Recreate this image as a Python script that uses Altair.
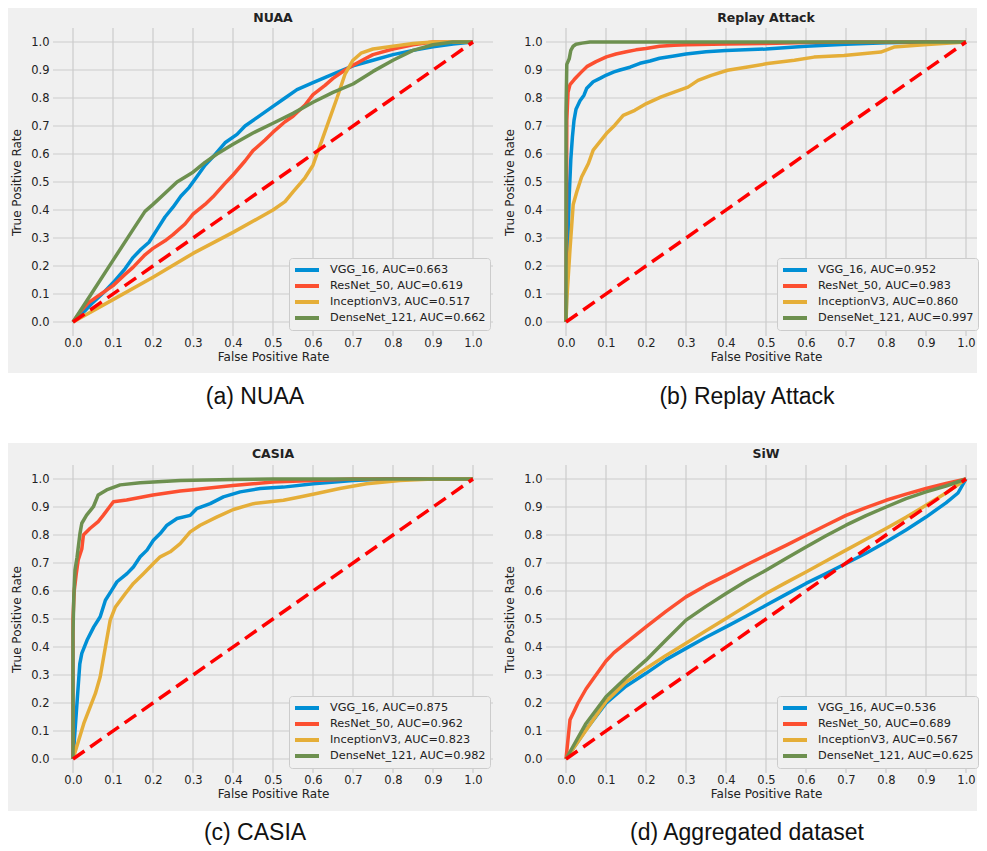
import altair as alt
import pandas as pd

TICKS = [0.0, 0.1, 0.2, 0.3, 0.4, 0.5, 0.6, 0.7, 0.8, 0.9, 1.0]
MODELS = ["VGG_16", "ResNet_50", "InceptionV3", "DenseNet_121"]
COLORS = ["#008fd5", "#fc4f30", "#e5ae38", "#6d904f"]
TITLES = ["NUAA", "Replay Attack", "CASIA", "SiW"]
CAPTIONS = ["(a) NUAA", "(b) Replay Attack", "(c) CASIA", "(d) Aggregated dataset"]
DIAG_X = [0.0, 1.0]
DIAG_Y = [0.0, 1.0]

NUAA_AUC = ["0.663", "0.619", "0.517", "0.662"]
REPLAY_AUC = ["0.952", "0.983", "0.860", "0.997"]
CASIA_AUC = ["0.875", "0.962", "0.823", "0.982"]
SIW_AUC = ["0.536", "0.689", "0.567", "0.625"]

# ---------------- NUAA ----------------
NUAA_VGG_FPR = [0, 0.03, 0.05, 0.08, 0.1, 0.13, 0.15, 0.17, 0.19, 0.21, 0.23, 0.25, 0.27, 0.29, 0.31, 0.33, 0.35, 0.38, 0.41, 0.43, 0.46, 0.5, 0.53, 0.56, 0.6, 0.65, 0.7, 0.75, 0.8, 0.85, 0.9, 0.95, 1.0]
NUAA_VGG_TPR = [0, 0.04, 0.07, 0.11, 0.14, 0.19, 0.23, 0.26, 0.285, 0.33, 0.375, 0.41, 0.45, 0.48, 0.52, 0.56, 0.59, 0.64, 0.67, 0.70, 0.73, 0.77, 0.80, 0.83, 0.855, 0.885, 0.915, 0.935, 0.955, 0.97, 0.983, 0.993, 1.0]
NUAA_RES_FPR = [0, 0.02, 0.04, 0.07, 0.1, 0.13, 0.15, 0.18, 0.2, 0.23, 0.25, 0.28, 0.3, 0.33, 0.35, 0.38, 0.4, 0.43, 0.45, 0.48, 0.5, 0.53, 0.55, 0.58, 0.6, 0.63, 0.65, 0.68, 0.7, 0.73, 0.75, 0.8, 0.85, 0.9, 1.0]
NUAA_RES_TPR = [0, 0.04, 0.07, 0.1, 0.13, 0.17, 0.195, 0.24, 0.263, 0.29, 0.312, 0.35, 0.385, 0.42, 0.447, 0.495, 0.525, 0.575, 0.612, 0.65, 0.678, 0.715, 0.735, 0.775, 0.812, 0.845, 0.87, 0.9, 0.917, 0.94, 0.955, 0.975, 0.99, 1.0, 1.0]
NUAA_INC_FPR = [0, 0.1, 0.2, 0.3, 0.4, 0.5, 0.53, 0.55, 0.58, 0.6, 0.61, 0.62, 0.64, 0.66, 0.68, 0.7, 0.72, 0.75, 0.8, 0.85, 0.9, 1.0]
NUAA_INC_TPR = [0, 0.08, 0.16, 0.245, 0.32, 0.40, 0.43, 0.465, 0.515, 0.56, 0.6, 0.64, 0.72, 0.80, 0.885, 0.935, 0.96, 0.975, 0.985, 0.995, 1.0, 1.0]
NUAA_DEN_FPR = [0, 0.05, 0.1, 0.15, 0.18, 0.2, 0.23, 0.26, 0.3, 0.33, 0.36, 0.4, 0.45, 0.5, 0.55, 0.6, 0.65, 0.7, 0.75, 0.8, 0.85, 0.9, 0.95, 1.0]
NUAA_DEN_TPR = [0, 0.11, 0.22, 0.33, 0.395, 0.42, 0.46, 0.5, 0.535, 0.57, 0.6, 0.635, 0.675, 0.71, 0.745, 0.785, 0.82, 0.85, 0.895, 0.935, 0.97, 0.99, 1.0, 1.0]

# ---------------- Replay Attack ----------------
REPLAY_VGG_FPR = [0, 0.003, 0.008, 0.012, 0.016, 0.02, 0.025, 0.035, 0.045, 0.052, 0.068, 0.085, 0.101, 0.12, 0.135, 0.16, 0.185, 0.21, 0.234, 0.27, 0.3, 0.35, 0.4, 0.5, 0.6, 0.7, 0.8, 0.9, 1.0]
REPLAY_VGG_TPR = [0, 0.2, 0.45, 0.58, 0.66, 0.72, 0.76, 0.79, 0.81, 0.835, 0.858, 0.87, 0.882, 0.893, 0.9, 0.91, 0.924, 0.932, 0.942, 0.95, 0.957, 0.965, 0.97, 0.975, 0.985, 0.992, 0.997, 1.0, 1.0]
REPLAY_RES_FPR = [0, 0.002, 0.005, 0.01, 0.02, 0.027, 0.04, 0.052, 0.075, 0.101, 0.125, 0.151, 0.175, 0.2, 0.234, 0.27, 0.3, 0.4, 0.5, 0.6, 0.7, 1.0]
REPLAY_RES_TPR = [0, 0.72, 0.82, 0.848, 0.865, 0.876, 0.895, 0.912, 0.93, 0.947, 0.957, 0.965, 0.972, 0.977, 0.985, 0.988, 0.99, 0.993, 0.995, 0.998, 1.0, 1.0]
REPLAY_INC_FPR = [0, 0.002, 0.01, 0.018, 0.027, 0.039, 0.056, 0.068, 0.081, 0.101, 0.122, 0.143, 0.172, 0.201, 0.238, 0.272, 0.305, 0.33, 0.363, 0.404, 0.454, 0.504, 0.571, 0.62, 0.695, 0.787, 0.82, 0.903, 1.0]
REPLAY_INC_TPR = [0, 0.08, 0.26, 0.42, 0.465, 0.518, 0.566, 0.614, 0.637, 0.673, 0.703, 0.738, 0.756, 0.78, 0.804, 0.822, 0.839, 0.863, 0.881, 0.899, 0.911, 0.923, 0.935, 0.946, 0.952, 0.964, 0.982, 0.991, 1.0]
REPLAY_DEN_FPR = [0, 0.0, 0.002, 0.008, 0.012, 0.018, 0.025, 0.04, 0.06, 1.0]
REPLAY_DEN_TPR = [0, 0.75, 0.92, 0.94, 0.97, 0.985, 0.992, 0.996, 1.0, 1.0]

# ---------------- CASIA ----------------
CASIA_VGG_FPR = [0, 0.017, 0.022, 0.035, 0.052, 0.068, 0.081, 0.097, 0.11, 0.135, 0.151, 0.168, 0.185, 0.201, 0.218, 0.235, 0.26, 0.293, 0.309, 0.343, 0.376, 0.418, 0.468, 0.526, 0.601, 0.7, 0.784, 1.0]
CASIA_VGG_TPR = [0, 0.34, 0.377, 0.424, 0.472, 0.508, 0.567, 0.603, 0.633, 0.662, 0.686, 0.722, 0.746, 0.781, 0.805, 0.835, 0.859, 0.87, 0.894, 0.912, 0.936, 0.954, 0.966, 0.971, 0.983, 0.995, 1.0, 1.0]
CASIA_RES_FPR = [0, 0.0, 0.003, 0.008, 0.013, 0.022, 0.026, 0.043, 0.063, 0.076, 0.101, 0.134, 0.2, 0.268, 0.3, 0.4, 0.5, 0.6, 0.7, 1.0]
CASIA_RES_TPR = [0, 0.5, 0.6, 0.66, 0.711, 0.75, 0.8, 0.824, 0.848, 0.871, 0.919, 0.925, 0.943, 0.957, 0.962, 0.977, 0.989, 0.995, 1.0, 1.0]
CASIA_INC_FPR = [0, 0.027, 0.056, 0.068, 0.081, 0.093, 0.106, 0.131, 0.151, 0.176, 0.201, 0.218, 0.243, 0.268, 0.293, 0.318, 0.359, 0.401, 0.451, 0.526, 0.567, 0.609, 0.667, 0.734, 0.817, 0.9, 1.0]
CASIA_INC_TPR = [0, 0.127, 0.234, 0.294, 0.4, 0.496, 0.543, 0.591, 0.627, 0.662, 0.698, 0.722, 0.74, 0.769, 0.811, 0.835, 0.864, 0.891, 0.912, 0.924, 0.936, 0.948, 0.966, 0.983, 0.995, 1.0, 1.0]
CASIA_DEN_FPR = [0, 0.0, 0.002, 0.005, 0.01, 0.0175, 0.022, 0.034, 0.051, 0.063, 0.084, 0.118, 0.168, 0.268, 0.4, 0.5, 1.0]
CASIA_DEN_TPR = [0, 0.45, 0.58, 0.675, 0.72, 0.806, 0.842, 0.871, 0.901, 0.943, 0.961, 0.979, 0.987, 0.995, 0.998, 1.0, 1.0]

# ---------------- SiW ----------------
SIW_VGG_FPR = [0, 0.05, 0.1, 0.15, 0.2, 0.25, 0.3, 0.35, 0.4, 0.45, 0.5, 0.55, 0.6, 0.65, 0.7, 0.75, 0.8, 0.85, 0.9, 0.95, 0.98, 1.0]
SIW_VGG_TPR = [0, 0.105, 0.199, 0.26, 0.306, 0.355, 0.395, 0.435, 0.472, 0.51, 0.549, 0.588, 0.627, 0.662, 0.698, 0.735, 0.775, 0.818, 0.864, 0.915, 0.95, 1.0]
SIW_RES_FPR = [0, 0.01, 0.02, 0.03, 0.05, 0.07, 0.1, 0.12, 0.15, 0.2, 0.25, 0.3, 0.35, 0.4, 0.45, 0.5, 0.55, 0.6, 0.65, 0.7, 0.75, 0.8, 0.85, 0.9, 0.95, 1.0]
SIW_RES_TPR = [0, 0.14, 0.17, 0.2, 0.25, 0.29, 0.35, 0.38, 0.415, 0.472, 0.527, 0.579, 0.62, 0.656, 0.693, 0.728, 0.763, 0.799, 0.835, 0.87, 0.898, 0.924, 0.946, 0.966, 0.984, 1.0]
SIW_INC_FPR = [0, 0.05, 0.1, 0.15, 0.2, 0.25, 0.3, 0.35, 0.4, 0.45, 0.5, 0.55, 0.6, 0.65, 0.7, 0.75, 0.8, 0.85, 0.9, 0.95, 1.0]
SIW_INC_TPR = [0, 0.103, 0.205, 0.275, 0.323, 0.37, 0.413, 0.458, 0.502, 0.546, 0.591, 0.63, 0.668, 0.707, 0.746, 0.785, 0.823, 0.863, 0.906, 0.95, 1.0]
SIW_DEN_FPR = [0, 0.05, 0.1, 0.15, 0.2, 0.25, 0.3, 0.35, 0.4, 0.45, 0.5, 0.55, 0.6, 0.65, 0.7, 0.75, 0.8, 0.85, 0.9, 0.95, 1.0]
SIW_DEN_TPR = [0, 0.127, 0.222, 0.29, 0.353, 0.425, 0.496, 0.545, 0.591, 0.635, 0.674, 0.716, 0.757, 0.797, 0.835, 0.869, 0.9, 0.93, 0.954, 0.975, 1.0]

PANELS = [
    (TITLES[0], CAPTIONS[0], NUAA_AUC, [(NUAA_VGG_FPR, NUAA_VGG_TPR), (NUAA_RES_FPR, NUAA_RES_TPR), (NUAA_INC_FPR, NUAA_INC_TPR), (NUAA_DEN_FPR, NUAA_DEN_TPR)]),
    (TITLES[1], CAPTIONS[1], REPLAY_AUC, [(REPLAY_VGG_FPR, REPLAY_VGG_TPR), (REPLAY_RES_FPR, REPLAY_RES_TPR), (REPLAY_INC_FPR, REPLAY_INC_TPR), (REPLAY_DEN_FPR, REPLAY_DEN_TPR)]),
    (TITLES[2], CAPTIONS[2], CASIA_AUC, [(CASIA_VGG_FPR, CASIA_VGG_TPR), (CASIA_RES_FPR, CASIA_RES_TPR), (CASIA_INC_FPR, CASIA_INC_TPR), (CASIA_DEN_FPR, CASIA_DEN_TPR)]),
    (TITLES[3], CAPTIONS[3], SIW_AUC, [(SIW_VGG_FPR, SIW_VGG_TPR), (SIW_RES_FPR, SIW_RES_TPR), (SIW_INC_FPR, SIW_INC_TPR), (SIW_DEN_FPR, SIW_DEN_TPR)]),
]

BG = "#f0f0f0"
GRID = "#cbcbcb"
TXT = "#222222"
FONT = "DejaVu Sans"
H = 308
# left column panels are 440 px wide, right column trimmed on its right edge so the page fits
WIDTHS = [440, 431, 440, 431]
XMAX = [1.05, 1.0275, 1.05, 1.0275]

# background panel extents (pixels relative to each plot area), caption, title and legend positions
BG_BOX = [(-45, 442, -20, 345), (-51, 431, -20, 345), (-45, 442, -22, 346), (-51, 431, -22, 346)]
CAP_POS = [(202, 369), (201, 369), (202, 368), (201, 368)]
TITLE_POS = [(220, -10), (220, -10), (220, -11), (220, -11)]
LEGEND_POS = [(236, 230), (231, 230), (236, 231), (231, 231)]

yscale = alt.Scale(domain=[-0.05, 1.05], nice=False, zero=False)

common_axis = dict(values=TICKS, format=".1f", grid=False, domain=False, ticks=False, tickSize=0,
                   labelFont=FONT, labelFontSize=11.5, labelColor=TXT, titleFont=FONT,
                   titleFontSize=12, titleFontWeight="normal", titleColor=TXT, zindex=1,
                   labelFlush=False, labelOverlap=False)
xaxis = alt.Axis(title="False Positive Rate", labelPadding=1, titlePadding=3, titleX=220,
                 titleAlign="center", **common_axis)
yaxis = alt.Axis(title="True Positive Rate", labelPadding=4, titlePadding=7, **common_axis)


def panel(idx):
    title, caption, aucs, curves = PANELS[idx]
    labels = [f"{m}, AUC={a}" for m, a in zip(MODELS, aucs)]
    x0, x1, y0, y1 = BG_BOX[idx]
    cx, cy = CAP_POS[idx]
    tx, ty_ = TITLE_POS[idx]
    lx, ly = LEGEND_POS[idx]
    xscale = alt.Scale(domain=[-0.05, XMAX[idx]], nice=False, zero=False)

    bg = alt.Chart(pd.DataFrame({"k": [0]})).mark_rect(color=BG).encode(
        x=alt.value(x0), x2=alt.value(x1), y=alt.value(y0), y2=alt.value(y1))

    tick_df = pd.DataFrame({"t": TICKS})
    gx = alt.Chart(tick_df).mark_rule(color=GRID, strokeWidth=1.2).encode(
        x=alt.X("t:Q", scale=xscale, axis=xaxis))
    gy = alt.Chart(tick_df).mark_rule(color=GRID, strokeWidth=1.2).encode(
        y=alt.Y("t:Q", scale=yscale, axis=yaxis))

    color = alt.Color("label:N", scale=alt.Scale(domain=labels, range=COLORS),
                      legend=alt.Legend(title=None, orient="none", legendX=lx, legendY=ly,
                                        symbolType="M-1,0H3", symbolSize=144, symbolStrokeWidth=4,
                                        labelFont=FONT, labelFontSize=11.3, labelColor=TXT,
                                        labelOffset=21, rowPadding=0, padding=4,
                                        fillColor=BG, strokeColor="#cccccc", cornerRadius=3,
                                        zindex=1, labelLimit=400))
    lines = []
    for lab, (fx, ty) in zip(labels, curves):
        df = pd.DataFrame({"fpr": fx, "tpr": ty, "label": lab, "i": list(range(len(fx)))})
        lines.append(alt.Chart(df).mark_line(strokeWidth=3.5, strokeJoin="round").encode(
            x=alt.X("fpr:Q", scale=xscale, axis=xaxis),
            y=alt.Y("tpr:Q", scale=yscale, axis=yaxis),
            color=color,
            order=alt.Order("i:Q")))

    diag = alt.Chart(pd.DataFrame({"fpr": DIAG_X, "tpr": DIAG_Y})).mark_line(
        color="#ff0000", strokeWidth=3.5, strokeDash=[14, 7]).encode(
        x=alt.X("fpr:Q", scale=xscale, axis=xaxis),
        y=alt.Y("tpr:Q", scale=yscale, axis=yaxis))

    ttl = alt.Chart(pd.DataFrame({"c": [title]})).mark_text(
        font=FONT, fontSize=12.5, fontWeight="bold", color=TXT, align="center", baseline="middle").encode(
        x=alt.value(tx), y=alt.value(ty_), text="c:N")

    cap = alt.Chart(pd.DataFrame({"c": [caption]})).mark_text(
        font="Liberation Sans", fontSize=23, color="#111111", align="center", baseline="middle").encode(
        x=alt.value(cx), y=alt.value(cy), text="c:N")

    return alt.layer(bg, gx, gy, *lines, diag, ttl, cap).properties(width=WIDTHS[idx], height=H)


chart = alt.concat(*[panel(i) for i in range(4)], columns=2,
                   spacing={"row": 129, "column": 53}, bounds="flush").resolve_scale(
    color="independent", x="independent").resolve_legend(color="independent").properties(
    padding=0, background="white").configure_view(stroke=None)

chart.save("out.html", embed_options={"renderer": "svg", "actions": False})
